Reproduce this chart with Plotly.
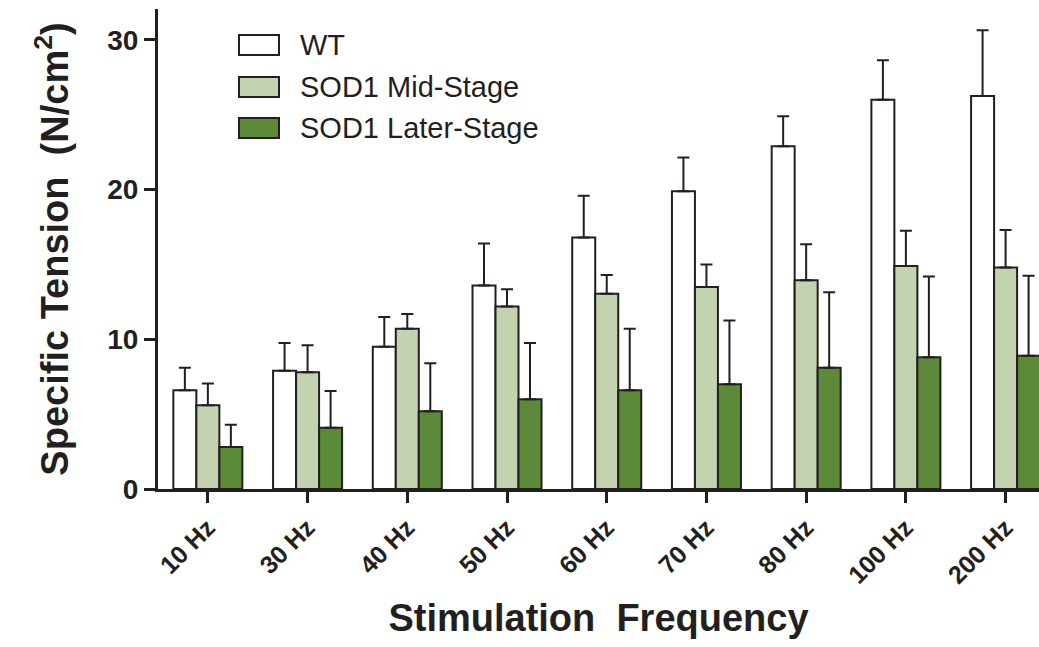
import plotly.graph_objects as go

categories = ["10 Hz", "30 Hz", "40 Hz", "50 Hz", "60 Hz", "70 Hz", "80 Hz", "100 Hz", "200 Hz"]
series_names = ["WT", "SOD1 Mid-Stage", "SOD1 Later-Stage"]
series_colors = ["#ffffff", "#c4d3af", "#5c8a39"]

wt_mean = [6.6, 7.9, 9.5, 13.6, 16.8, 19.9, 22.9, 26.0, 26.25]
wt_err = [1.5, 1.85, 2.0, 2.8, 2.8, 2.25, 2.0, 2.65, 4.4]
mid_mean = [5.6, 7.8, 10.7, 12.2, 13.05, 13.5, 13.95, 14.9, 14.8]
mid_err = [1.45, 1.8, 1.0, 1.15, 1.25, 1.5, 2.4, 2.35, 2.5]
late_mean = [2.8, 4.1, 5.2, 6.0, 6.6, 7.0, 8.1, 8.8, 8.9]
late_err = [1.5, 2.45, 3.2, 3.75, 4.1, 4.25, 5.05, 5.4, 5.35]

means = [wt_mean, mid_mean, late_mean]
errs = [wt_err, mid_err, late_err]

FONT = "Liberation Sans, Arial, sans-serif"
INK = "#231f20"

W, H = 1039, 647
L, R, T = 158, 0, 9
B = H - 489

fig = go.Figure()
for name, color, m, e in zip(series_names, series_colors, means, errs):
    fig.add_trace(go.Bar(
        x=categories, y=m, name=name,
        marker=dict(color=color, line=dict(color=INK, width=2)),
        error_y=dict(type="data", array=e, arrayminus=[0] * len(e), symmetric=False,
                     color=INK, thickness=2, width=6),
        showlegend=False,
    ))

# custom legend (large swatches like the reference), positions in page pixels
pw, ph = W - L - R, H - T - B
def px_x(p):
    return (p - L) / pw
def px_y(p):
    return 1 - (p - T) / ph

leg_x0, leg_x1 = 239, 279
leg_centers = [45, 87, 128]
for name, color, cy in zip(series_names, series_colors, leg_centers):
    fig.add_shape(type="rect", xref="paper", yref="paper",
                  x0=px_x(leg_x0), x1=px_x(leg_x1), y0=px_y(cy + 10), y1=px_y(cy - 10),
                  fillcolor=color, line=dict(color=INK, width=2))
    fig.add_annotation(xref="paper", yref="paper", x=px_x(298), y=px_y(cy),
                       text=name, showarrow=False, xanchor="left", yanchor="middle",
                       font=dict(family=FONT, size=29, color=INK))

fig.update_layout(
    width=W, height=H,
    margin=dict(l=L, r=R, t=T, b=B, pad=0, autoexpand=False),
    paper_bgcolor="white", plot_bgcolor="white",
    barmode="group", bargap=0.308, bargroupgap=0,
    font=dict(family=FONT, color=INK),
    hovermode=False,
    xaxis=dict(
        automargin=False,
        range=[-0.5, 8.335], showline=True, linecolor=INK, linewidth=3,
        ticks="outside", ticklen=11, tickwidth=3, tickcolor=INK,
        tickangle=-45, tickfont=dict(family=FONT, size=25, color=INK, weight="bold"),
        showgrid=False, zeroline=False,
        title=dict(text="<b>Stimulation  Frequency</b>", font=dict(family=FONT, size=38, color=INK), standoff=17),
    ),
    yaxis=dict(
        automargin=False,
        range=[0, 32.07], showline=True, linecolor=INK, linewidth=3,
        ticks="outside", ticklen=11, tickwidth=3, tickcolor=INK,
        tickvals=[0, 10, 20, 30], tickfont=dict(family=FONT, size=28, color=INK, weight="bold"),
        showgrid=False, zeroline=False,
        title=dict(text="<b>Specific Tension  (N/cm<sup>2</sup>)</b>", font=dict(family=FONT, size=38, color=INK), standoff=27),
    ),
)

fig.write_html(
    "out.html",
    config={"displayModeBar": False},
    post_script="document.body.style.margin='0';document.documentElement.style.overflow='hidden';",
)
